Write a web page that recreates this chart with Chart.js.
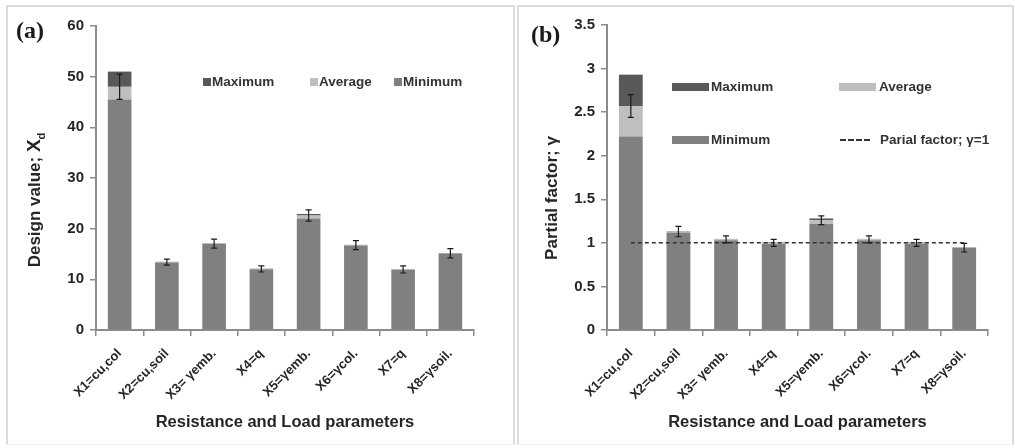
<!DOCTYPE html>
<html>
<head>
<meta charset="utf-8">
<script src="https://cdn.jsdelivr.net/npm/chart.js@4.4.0/dist/chart.umd.min.js"></script>
<style>
  body { margin: 0; background: #fff; }
  #page { position: relative; width: 1015px; height: 448px; overflow: hidden; font-family: Arial, "Liberation Sans", sans-serif; color: #262626; }
  .frame { position: absolute; top: 5px; height: 440px; border: 2px solid #dcdcdc; border-bottom: 1px solid #f0f0f0; box-sizing: border-box; }
  canvas { position: absolute; top: 0; }
  .tag { position: absolute; font-family: "Liberation Serif", "Times New Roman", serif; font-weight: bold; font-size: 24px; color: #1a1a1a; }
  .ytitle { position: absolute; transform: translate(-50%, -50%) rotate(-90deg); white-space: nowrap; font-weight: bold; font-size: 17px; color: #262626; }
  .ytitle sub { font-size: 11px; }
  .leg { position: absolute; font-weight: bold; font-size: 13.5px; color: #333; white-space: nowrap; line-height: 16px; }
  .sw { position: absolute; }
</style>
</head>
<body>
<div id="page">
  <div class="frame" style="left:6px; width:509px;"></div>
  <div class="frame" style="left:517px; width:497px;"></div>

  <canvas id="chartA" width="510" height="448" style="left:0;"></canvas>
  <canvas id="chartB" width="505" height="448" style="left:510px;"></canvas>

  <div class="tag" style="left:16px; top:17px;">(a)</div>
  <div class="tag" style="left:531px; top:21px;">(b)</div>

  <div class="ytitle" style="left:35px; top:200px;">Design value; <span style="font-size:19px">X</span><sub>d</sub></div>
  <div class="ytitle" style="left:552px; top:198px;">Partial factor; γ</div>

  <!-- legend (a) -->
  <div class="sw" style="left:203px; top:78px; width:8px; height:8px; background:#595959;"></div>
  <div class="leg" style="left:212px; top:74px;">Maximum</div>
  <div class="sw" style="left:310px; top:78px; width:8px; height:8px; background:#bfbfbf;"></div>
  <div class="leg" style="left:319px; top:74px;">Average</div>
  <div class="sw" style="left:394px; top:78px; width:8px; height:8px; background:#808080;"></div>
  <div class="leg" style="left:403px; top:74px;">Minimum</div>

  <!-- legend (b) -->
  <div class="sw" style="left:672px; top:83px; width:37px; height:8px; background:#595959;"></div>
  <div class="leg" style="left:711px; top:79px;">Maximum</div>
  <div class="sw" style="left:839px; top:83px; width:37px; height:8px; background:#bfbfbf;"></div>
  <div class="leg" style="left:879px; top:79px;">Average</div>
  <div class="sw" style="left:672px; top:136px; width:37px; height:8px; background:#808080;"></div>
  <div class="leg" style="left:711px; top:132px;">Minimum</div>
  <div class="sw" style="left:840px; top:139px; width:30px; height:0; border-top:2px dashed #333;"></div>
  <div class="leg" style="left:880px; top:132px;">Parial factor; γ=1</div>
</div>

<script>
// categories (x axis)
const categories = ['X1=cu,col', 'X2=cu,soil', 'X3= γemb.', 'X4=q', 'X5=γemb.', 'X6=γcol.', 'X7=q', 'X8=γsoil.'];

// (a) design value Xd
const designMin = [45.5, 13.3, 17.0, 12.0, 22.0, 16.7, 11.9, 15.1];
const designAvg = [48.0, 13.4, 17.05, 12.05, 22.6, 16.75, 11.95, 15.15];
const designMax = [51.0, 13.45, 17.1, 12.1, 22.9, 16.8, 12.0, 15.2];
const designErr = [2.5, 0.6, 0.9, 0.6, 1.1, 0.9, 0.7, 0.9];
const designTicks = { min: 0, max: 60, step: 10 };

// (b) partial factor gamma
const gammaMin = [2.22, 1.12, 1.03, 0.99, 1.22, 1.03, 0.99, 0.94];
const gammaAvg = [2.57, 1.13, 1.04, 1.00, 1.26, 1.04, 1.00, 0.945];
const gammaMax = [2.93, 1.135, 1.045, 1.005, 1.28, 1.045, 1.005, 0.95];
const gammaErr = [0.13, 0.06, 0.04, 0.04, 0.05, 0.04, 0.04, 0.05];
const gammaRef = [1, 1, 1, 1, 1, 1, 1, 1];
const gammaTicks = { min: 0, max: 3.5, step: 0.5 };

const colMax = '#595959';
const colAvg = '#bfbfbf';
const colMin = '#808080';
const axisCol = '#8c8c8c';
const textCol = '#262626';

Chart.defaults.font.family = 'Arial, "Liberation Sans", sans-serif';

function errorBars(centers, errors) {
  return {
    id: 'errorBars',
    afterDatasetsDraw(chart) {
      const { ctx, scales: { x, y } } = chart;
      ctx.save();
      ctx.strokeStyle = '#1a1a1a';
      ctx.lineWidth = 1.2;
      centers.forEach((v, i) => {
        const px = x.getPixelForValue(i);
        const top = y.getPixelForValue(v + errors[i]);
        const bot = y.getPixelForValue(v - errors[i]);
        ctx.beginPath();
        ctx.moveTo(px, top); ctx.lineTo(px, bot);
        ctx.moveTo(px - 3, top); ctx.lineTo(px + 3, top);
        ctx.moveTo(px - 3, bot); ctx.lineTo(px + 3, bot);
        ctx.stroke();
      });
      ctx.restore();
    }
  };
}

function stackSets(mins, avgs, maxs) {
  // stacked segments: minimum, then the step up to average, then up to maximum
  const common = { barPercentage: 0.5, categoryPercentage: 1, borderWidth: 0, order: 1, stack: 'vals' };
  return [
    { label: 'Minimum', data: mins, backgroundColor: colMin, ...common },
    { label: 'Average', data: avgs.map((v, i) => +(v - mins[i]).toFixed(3)), backgroundColor: colAvg, ...common },
    { label: 'Maximum', data: maxs.map((v, i) => +(v - avgs[i]).toFixed(3)), backgroundColor: colMax, ...common }
  ];
}

function makeOptions(ticks, padRight) {
  return {
    responsive: false,
    animation: false,
    layout: { padding: { left: 0, top: 26, right: padRight, bottom: 0 } },
    plugins: { legend: { display: false }, tooltip: { enabled: false } },
    scales: {
      x: {
        stacked: true,
        grid: { display: true, drawOnChartArea: false, drawTicks: true, tickLength: 6, color: axisCol, lineWidth: 1.5 },
        border: { display: true, color: axisCol, width: 2 },
        ticks: { color: textCol, font: { size: 13, weight: 'bold' }, minRotation: 45, maxRotation: 45, autoSkip: false, padding: 10 },
        title: { display: true, text: 'Resistance and Load parameters', color: textCol,
                 font: { size: 16.5, weight: 'bold' }, padding: { top: 0, bottom: 16 } },
        afterFit(s) { s.height = 118; }
      },
      y: {
        stacked: true,
        min: ticks.min, max: ticks.max,
        grid: { display: true, drawOnChartArea: false, drawTicks: true, tickLength: 6, color: axisCol, lineWidth: 1.5 },
        border: { display: true, color: axisCol, width: 2 },
        ticks: { stepSize: ticks.step, color: textCol, font: { size: 15, weight: 'bold' }, padding: 6,
                 callback: (v) => String(+Number(v).toFixed(2)) },
        afterFit(s) { s.width = 96; }
      }
    }
  };
}

new Chart(document.getElementById('chartA'), {
  type: 'bar',
  data: { labels: categories, datasets: stackSets(designMin, designAvg, designMax) },
  options: makeOptions(designTicks, 36),
  plugins: [errorBars(designAvg, designErr)]
});

const optsB = makeOptions(gammaTicks, 27);
optsB.layout.padding.top = 25;
optsB.scales.y.afterFit = function (s) { s.width = 97; };

new Chart(document.getElementById('chartB'), {
  type: 'bar',
  data: {
    labels: categories,
    datasets: [
      ...stackSets(gammaMin, gammaAvg, gammaMax),
      { type: 'line', label: 'Parial factor; γ=1', data: gammaRef, stack: 'ref', order: 0,
        borderColor: '#333', borderWidth: 1.5, borderDash: [4, 3], pointRadius: 0, fill: false }
    ]
  },
  options: optsB,
  plugins: [errorBars(gammaAvg, gammaErr)]
});
</script>
</body>
</html>
